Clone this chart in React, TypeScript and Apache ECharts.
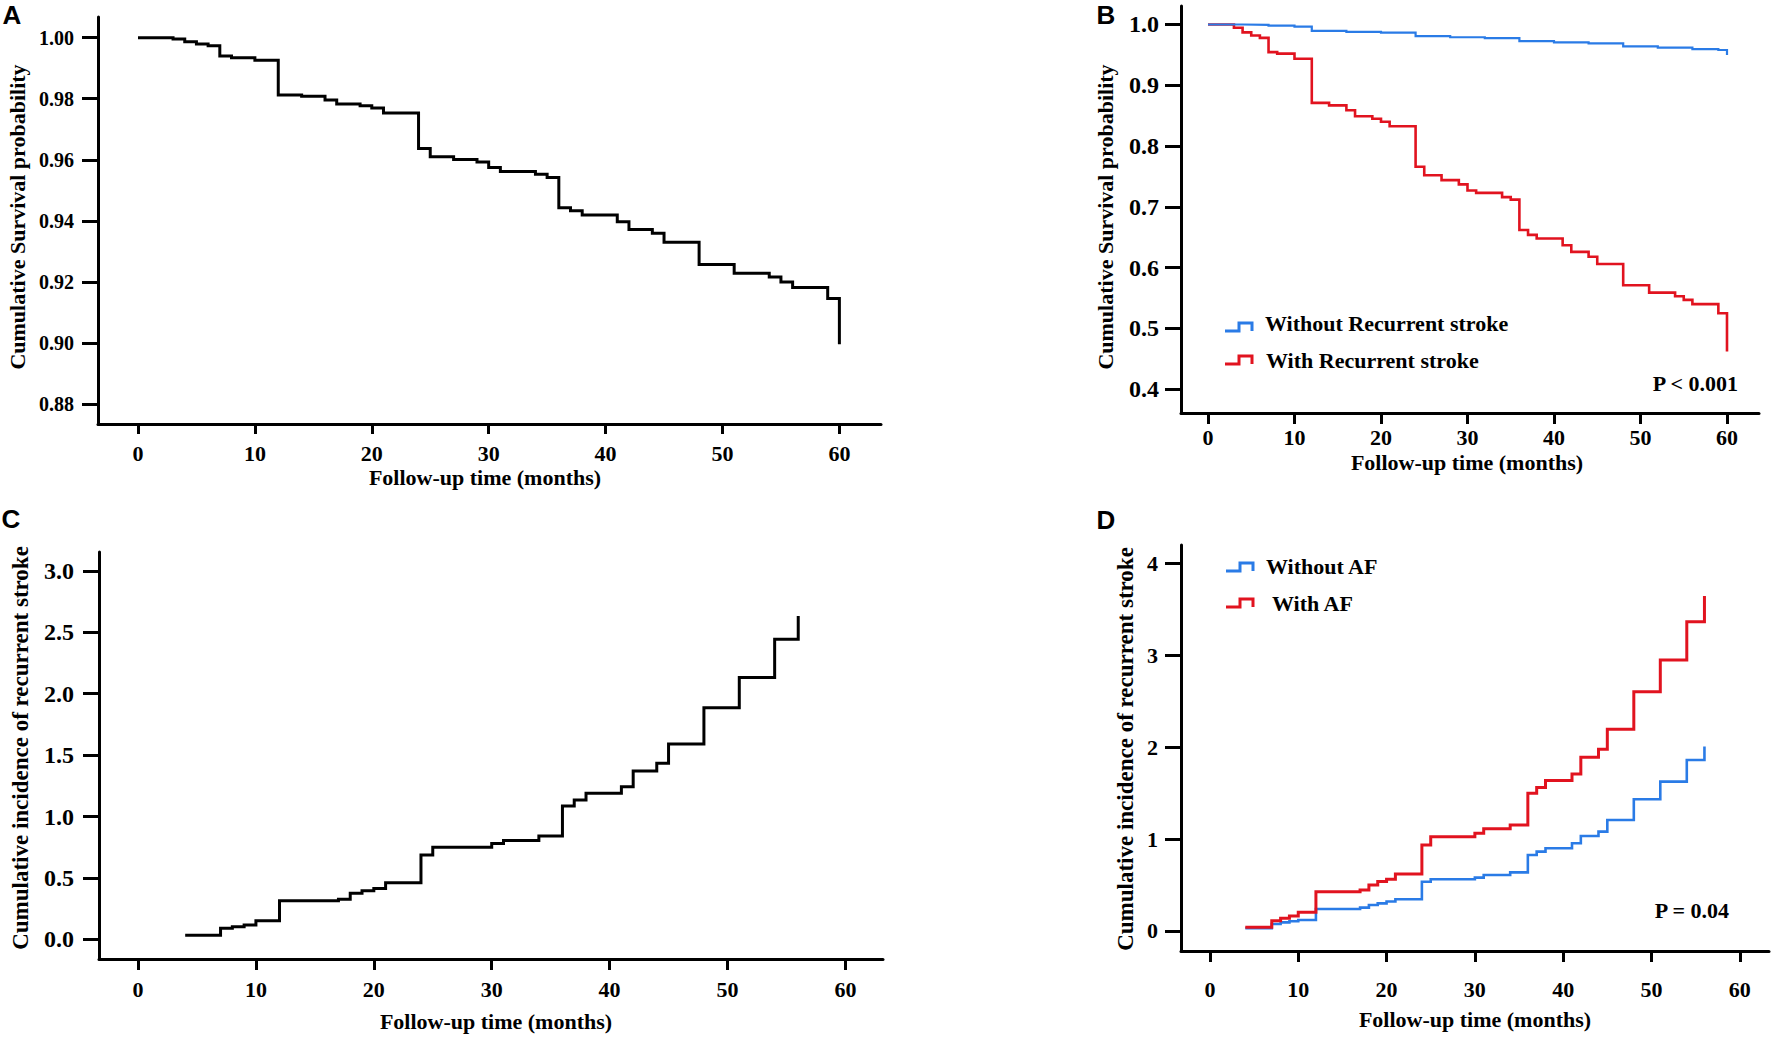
import React, { useEffect, useRef } from "react";
import * as echarts from "echarts";

// ---------- data ----------
const MONTH_TICKS = [0, 10, 20, 30, 40, 50, 60];

// Panel A: overall Kaplan-Meier survival
const A_TIME = [0, 3, 4, 5, 6, 7, 8, 10, 12, 14, 16, 17, 19, 20, 21, 24, 25, 27, 29, 30, 31, 34, 35, 36, 37, 38, 41, 42, 44, 45, 48, 51, 54, 55, 56, 59, 60];
const A_SURV = [1.0, 0.9996, 0.9987, 0.9979, 0.9974, 0.994, 0.9934, 0.9926, 0.9812, 0.9808, 0.9796, 0.9783, 0.9777, 0.977, 0.9753, 0.9637, 0.961, 0.9601, 0.9593, 0.9575, 0.9562, 0.9553, 0.9542, 0.9443, 0.9433, 0.9419, 0.9397, 0.9372, 0.9359, 0.933, 0.9257, 0.9228, 0.9216, 0.92, 0.9182, 0.9146, 0.8996];
const A_TICKS = [0.88, 0.9, 0.92, 0.94, 0.96, 0.98, 1.0];

// Panel B: survival by recurrent stroke
const B_WITH_TIME = A_TIME;
const B_WITH_SURV = [1.0, 0.9946, 0.987, 0.982, 0.978, 0.9545, 0.952, 0.9437, 0.871, 0.867, 0.859, 0.849, 0.845, 0.84, 0.8325, 0.766, 0.752, 0.744, 0.737, 0.727, 0.723, 0.716, 0.712, 0.662, 0.654, 0.648, 0.637, 0.626, 0.618, 0.606, 0.571, 0.559, 0.553, 0.547, 0.54, 0.525, 0.462];
const B_WITHOUT_TIME = [0, 4, 7, 10, 12, 16, 20, 24, 28, 32, 36, 40, 44, 48, 52, 56, 59, 60];
const B_WITHOUT_SURV = [1.0, 0.9995, 0.998, 0.9965, 0.9895, 0.988, 0.9865, 0.981, 0.979, 0.9775, 0.9725, 0.9705, 0.969, 0.964, 0.962, 0.9595, 0.958, 0.95];
const B_TICKS = [0.4, 0.5, 0.6, 0.7, 0.8, 0.9, 1.0];

// Panel C: cumulative incidence of recurrent stroke
const C_TIME = [4, 7, 8, 9, 10, 12, 17, 18, 19, 20, 21, 24, 25, 30, 31, 34, 36, 37, 38, 41, 42, 44, 45, 48, 51, 54, 56];
const C_INC = [0.033, 0.09, 0.103, 0.116, 0.151, 0.314, 0.326, 0.375, 0.396, 0.415, 0.461, 0.686, 0.749, 0.78, 0.805, 0.841, 1.085, 1.134, 1.189, 1.243, 1.37, 1.433, 1.59, 1.886, 2.133, 2.443, 2.633];
const C_TICKS = [0, 0.5, 1.0, 1.5, 2.0, 2.5, 3.0];

// Panel D: cumulative incidence by AF
const D_TIME = C_TIME;
const D_WITH_AF = [0.04, 0.112, 0.138, 0.163, 0.203, 0.428, 0.446, 0.5, 0.537, 0.562, 0.62, 0.936, 1.026, 1.063, 1.113, 1.153, 1.498, 1.56, 1.636, 1.708, 1.89, 1.977, 2.195, 2.604, 2.949, 3.366, 3.645];
const D_WITHOUT_AF = [0.03, 0.076, 0.094, 0.105, 0.12, 0.239, 0.254, 0.283, 0.3, 0.32, 0.345, 0.536, 0.562, 0.58, 0.609, 0.638, 0.827, 0.863, 0.9, 0.954, 1.034, 1.081, 1.208, 1.433, 1.625, 1.861, 2.006];
const D_TICKS = [0, 1, 2, 3, 4];

const X_TITLE = "Follow-up time (months)";
const Y_TITLE_SURV = "Cumulative Survival probability";
const Y_TITLE_INC = "Cumulative incidence of recurrent stroke";
const LEGEND_B = ["Without Recurrent stroke", "With Recurrent stroke"];
const LEGEND_D = ["Without AF", "With AF"];

// ---------- styles ----------
const SERIF = "'Liberation Serif', 'Times New Roman', serif";
const SANS = "'Liberation Sans', Arial, sans-serif";
const BLUE = "#2a7be6";
const RED = "#e1131f";
const BLACK = "#000000";

const zip = (xs: number[], ys: number[]) => xs.map((x, i) => [x, ys[i]]);

function xAxisCfg(gridIndex: number, min: number, max: number, margin: number, tickLen: number) {
  return {
    type: "value",
    gridIndex,
    min,
    max,
    axisLine: { show: true, onZero: false, lineStyle: { color: BLACK, width: 3 } },
    axisTick: { show: true, length: tickLen, customValues: MONTH_TICKS, lineStyle: { color: BLACK, width: 3 } },
    axisLabel: {
      customValues: MONTH_TICKS,
      margin,
      color: BLACK,
      fontFamily: SERIF,
      fontWeight: "bold",
      fontSize: 22,
    },
    splitLine: { show: false },
  };
}

function yAxisCfg(gridIndex: number, min: number, max: number, ticks: number[], digits: number, margin: number, fontSize: number) {
  return {
    type: "value",
    gridIndex,
    min,
    max,
    axisLine: { show: true, onZero: false, lineStyle: { color: BLACK, width: 3 } },
    axisTick: { show: true, length: 16, customValues: ticks, lineStyle: { color: BLACK, width: 3 } },
    axisLabel: {
      customValues: ticks,
      margin,
      color: BLACK,
      fontFamily: SERIF,
      fontWeight: "bold",
      fontSize,
      formatter: (v: number) => v.toFixed(digits),
    },
    splitLine: { show: false },
  };
}

function stepSeries(name: string, idx: number, data: number[][], color: string, width: number) {
  return {
    name,
    type: "line",
    step: "end",
    xAxisIndex: idx,
    yAxisIndex: idx,
    data,
    symbol: "none",
    showSymbol: false,
    silent: true,
    lineStyle: { color, width, join: "miter", cap: "butt" },
  };
}

function txt(text: string, x: number, y: number, opts: any = {}) {
  return {
    type: "text",
    x,
    y,
    rotation: opts.rotation || 0,
    silent: true,
    style: {
      text,
      fill: BLACK,
      font: opts.font || `bold 22px ${SERIF}`,
      align: opts.align || "center",
      verticalAlign: "middle",
    },
  };
}

function legendIcon(x: number, y: number, color: string) {
  // small step glyph, as in the SPSS legend
  return {
    type: "polyline",
    silent: true,
    shape: { points: [[x, y + 8], [x + 14, y + 8], [x + 14, y], [x + 27, y], [x + 27, y + 8]] },
    style: { stroke: color, lineWidth: 3, fill: "none", lineJoin: "miter" },
  };
}

export default function App() {
  const ref = useRef<HTMLDivElement>(null);

  useEffect(() => {
    if (!ref.current) return;
    const chart = echarts.init(ref.current, undefined, { renderer: "svg" });

    const option: any = {
      animation: false,
      backgroundColor: "#ffffff",
      grid: [
        { left: 98, top: 17, width: 783, height: 407 },
        { left: 1181, top: 6, width: 578, height: 407 },
        { left: 99, top: 552, width: 784, height: 407 },
        { left: 1181, top: 545, width: 588, height: 406 },
      ],
      xAxis: [
        xAxisCfg(0, -3.42, 63.56, 18, 10),
        xAxisCfg(1, -3.12, 63.7, 13, 11),
        xAxisCfg(2, -3.31, 63.19, 19, 11),
        xAxisCfg(3, -3.28, 63.31, 27, 11),
      ],
      yAxis: [
        yAxisCfg(0, 0.87345, 1.00678, A_TICKS, 2, 24, 20),
        yAxisCfg(1, 0.361, 1.0304, B_TICKS, 1, 22, 24),
        yAxisCfg(2, -0.16, 3.154, C_TICKS, 1, 25, 24),
        yAxisCfg(3, -0.218, 4.2, D_TICKS, 0, 23, 22),
      ],
      series: [
        stepSeries("Overall", 0, zip(A_TIME, A_SURV), BLACK, 3),
        stepSeries(LEGEND_B[1], 1, zip(B_WITH_TIME, B_WITH_SURV), RED, 2.6),
        stepSeries(LEGEND_B[0], 1, zip(B_WITHOUT_TIME, B_WITHOUT_SURV), BLUE, 2.2),
        stepSeries("Cumulative incidence", 2, zip(C_TIME, C_INC), BLACK, 3),
        stepSeries(LEGEND_D[0], 3, zip(D_TIME, D_WITHOUT_AF), BLUE, 2.6),
        stepSeries(LEGEND_D[1], 3, zip(D_TIME, D_WITH_AF), RED, 3),
      ],
      graphic: [
        // panel letters
        txt("A", 12, 15, { font: `bold 26px ${SANS}` }),
        txt("B", 1106, 15, { font: `bold 26px ${SANS}` }),
        txt("C", 11, 519, { font: `bold 26px ${SANS}` }),
        txt("D", 1106, 520, { font: `bold 26px ${SANS}` }),
        // axis titles
        txt(X_TITLE, 485, 477),
        txt(X_TITLE, 1467, 462),
        txt(X_TITLE, 496, 1021),
        txt(X_TITLE, 1475, 1019),
        txt(Y_TITLE_SURV, 17, 217, { rotation: Math.PI / 2 }),
        txt(Y_TITLE_SURV, 1105, 217, { rotation: Math.PI / 2 }),
        txt(Y_TITLE_INC, 20, 748, { rotation: Math.PI / 2, font: `bold 23px ${SERIF}` }),
        txt(Y_TITLE_INC, 1125, 749, { rotation: Math.PI / 2, font: `bold 23px ${SERIF}` }),
        // legend B
        legendIcon(1225, 323, BLUE),
        txt(LEGEND_B[0], 1265, 323, { align: "left" }),
        legendIcon(1225, 356, RED),
        txt(LEGEND_B[1], 1266, 360, { align: "left" }),
        txt("P < 0.001", 1738, 383, { align: "right" }),
        // legend D
        legendIcon(1226, 563, BLUE),
        txt(LEGEND_D[0], 1266, 566, { align: "left" }),
        legendIcon(1226, 599, RED),
        txt(LEGEND_D[1], 1272, 603, { align: "left" }),
        txt("P = 0.04", 1729, 910, { align: "right" }),
      ],
    };

    chart.setOption(option);
    return () => chart.dispose();
  }, []);

  return (
    <div
      ref={ref}
      style={{ position: "absolute", left: 0, top: 0, width: 1772, height: 1040, background: "#fff" }}
    />
  );
}
